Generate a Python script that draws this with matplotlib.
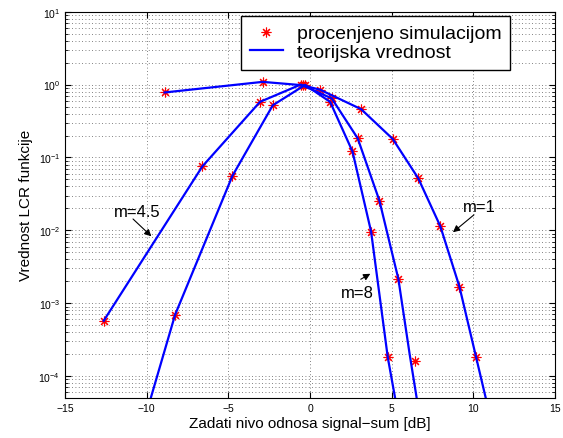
import matplotlib
matplotlib.use("Agg")
import matplotlib.pyplot as plt
from matplotlib.ticker import LogLocator, NullFormatter, FixedLocator

plt.rcParams['font.family'] = ['Liberation Sans', 'DejaVu Sans']
plt.rcParams['mathtext.default'] = 'regular'

# simulation points (SNR in dB, LCR value)
sim_m1_x = [-8.9, -2.9, -0.45, 0.62, 3.13, 5.07, 6.63, 7.98, 9.15, 10.17]
sim_m1_y = [0.78, 1.09, 0.98, 0.85, 0.46, 0.179, 0.0516, 0.01135, 1.68e-3, 1.81e-4]
sim_m45_x = [-12.63, -6.59, -3.06, -0.57, 1.33, 2.92, 4.25, 5.41, 6.43]
sim_m45_y = [5.75e-4, 0.0755, 0.58, 1.0, 0.647, 0.183, 0.0255, 2.15e-3, 1.6e-4]
sim_m8_x = [-8.26, -4.75, -2.28, -0.30, 1.23, 2.60, 3.74, 4.76]
sim_m8_y = [6.95e-4, 0.056, 0.52, 0.99, 0.58, 0.121, 9.6e-3, 1.81e-4]

# theoretical curves
th_m1_x = [-8.9, -2.9, -0.45, 0.62, 3.13, 5.07, 6.63, 7.98, 9.15, 10.17, 10.76]
th_m1_y = [0.78, 1.09, 0.98, 0.85, 0.46, 0.179, 0.0516, 0.01135, 1.68e-3, 1.81e-4, 5e-5]
th_m45_x = [-12.63, -6.59, -3.06, -0.57, 1.33, 2.92, 4.25, 5.41, 6.1, 6.53]
th_m45_y = [5.75e-4, 0.0755, 0.58, 1.0, 0.647, 0.183, 0.0255, 2.15e-3, 2.0e-4, 5e-5]
th_m8_x = [-9.75, -8.26, -4.75, -2.28, -0.30, 1.23, 2.60, 3.74, 4.76, 5.21]
th_m8_y = [5e-5, 6.95e-4, 0.056, 0.52, 0.99, 0.58, 0.121, 9.6e-3, 1.81e-4, 5e-5]

xticks = [-15, -10, -5, 0, 5, 10, 15]
xtick_labels = ['\u221215', '\u221210', '\u22125', '0', '5', '10', '15']
legend_labels = ['procenjeno simulacijom', 'teorijska vrednost']

fig = plt.figure(figsize=(5.63, 4.39), dpi=100)
ax = fig.add_axes([0.1155, 0.0911, 0.8703, 0.8799])

star = dict(linestyle='none', marker=(8, 2, 0), color='red', markersize=7, mew=0.8)
sim_handle, = ax.plot(sim_m1_x, sim_m1_y, **star)
ax.plot(sim_m45_x, sim_m45_y, **star)
ax.plot(sim_m8_x, sim_m8_y, **star)

th_handle, = ax.plot(th_m1_x, th_m1_y, color='blue', lw=1.6)
ax.plot(th_m45_x, th_m45_y, color='blue', lw=1.6)
ax.plot(th_m8_x, th_m8_y, color='blue', lw=1.6)

ax.set_yscale('log')
ax.set_xlim(-15, 15)
ax.set_ylim(5e-5, 10)
ax.xaxis.set_major_locator(FixedLocator(xticks))
ax.set_xticklabels(xtick_labels)
ax.yaxis.set_major_locator(LogLocator(base=10, numticks=10))
ax.yaxis.set_minor_locator(LogLocator(base=10, subs=range(2, 10), numticks=20))
ax.yaxis.set_minor_formatter(NullFormatter())
ax.tick_params(which='both', direction='in', top=True, right=True, labelsize=7.5)
ax.tick_params(which='major', length=4)
ax.tick_params(which='minor', length=2)

# matlab-like dotted grid
ax.grid(True, which='major', linestyle=(0, (1, 3)), color='0.35', lw=0.6)
ax.grid(True, which='minor', axis='y', linestyle=(0, (1, 3)), color='0.35', lw=0.6)

ax.set_xlabel('Zadati nivo odnosa signal\u2212sum [dB]', fontsize=11, labelpad=2)
ax.set_ylabel('Vrednost LCR funkcije', fontsize=11, labelpad=4)

ax.legend([sim_handle, th_handle], legend_labels,
          loc='upper right', bbox_to_anchor=(0.908, 0.989), fontsize=14,
          fancybox=False, edgecolor='black', framealpha=1, handlelength=1.7,
          borderpad=0.45, labelspacing=0.05, handletextpad=0.7, borderaxespad=0)

arrow = dict(arrowstyle='-|>', color='black', lw=0.8, mutation_scale=10)
ax.annotate('', xy=(-9.59, 7.8e-3), xytext=(-10.96, 0.0152), arrowprops=arrow)
ax.text(-10.59, 0.0184, 'm=4.5', fontsize=12, ha='center', va='center')
ax.annotate('', xy=(8.62, 8.9e-3), xytext=(10.17, 0.01727), arrowprops=arrow)
ax.text(10.38, 0.0215, 'm=1', fontsize=12, ha='center', va='center')
ax.annotate('', xy=(3.84, 2.65e-3), xytext=(2.96, 2.04e-3), arrowprops=arrow)
ax.text(2.91, 1.41e-3, 'm=8', fontsize=12, ha='center', va='center')

fig.savefig('out.png', dpi=100)
